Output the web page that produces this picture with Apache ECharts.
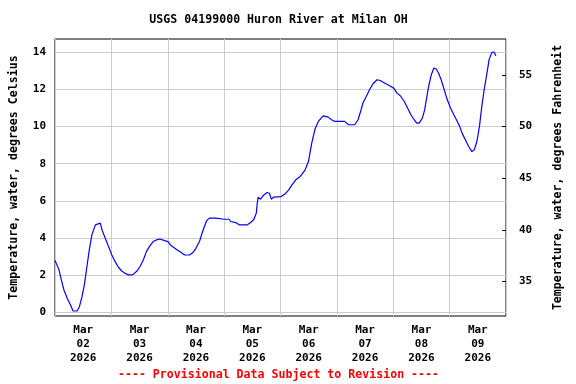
<!DOCTYPE html>
<html>
<head>
<meta charset="utf-8">
<script src="https://cdn.jsdelivr.net/npm/echarts@6/dist/echarts.min.js"></script>
<style>html,body{margin:0;padding:0;background:#fff}#c{width:576px;height:384px}</style>
</head>
<body>
<div id="c"></div>
<script>
// hours since 2026-03-02 00:00
const hours = [0.0,1.7,2.7,3.8,5.2,6.6,7.7,9.4,10.4,11.5,12.5,13.6,14.6,15.7,17.2,17.8,19.3,20.0,21.4,22.8,24.2,25.6,27.0,28.4,29.8,31.2,33.0,34.7,36.2,37.6,38.9,40.4,41.8,43.2,44.6,46.7,48.1,49.5,51.6,53.7,55.2,57.3,58.7,60.0,61.5,62.6,63.6,64.6,65.7,68.5,72.0,74.1,74.8,76.9,78.4,81.9,83.3,84.7,85.7,86.1,86.5,87.5,88.9,90.3,91.3,92.1,93.1,96.3,98.0,99.5,100.9,102.5,104.4,106.5,107.9,109.3,110.7,112.1,114.2,116.3,117.7,119.1,123.3,125.0,127.6,129.0,130.1,131.1,132.5,133.9,135.3,137.1,138.5,139.5,140.9,142.3,144.2,145.6,147.0,148.7,150.1,151.5,152.9,154.0,155.0,156.4,157.4,158.2,159.2,160.2,161.3,162.3,163.4,164.4,165.5,167.0,168.4,169.8,170.9,172.3,173.3,174.7,176.1,177.5,178.5,179.6,180.7,181.7,182.7,183.9,184.8,186.0,186.9,187.7];
const tempC = [2.8,2.29,1.75,1.21,0.76,0.40,0.08,0.08,0.31,0.85,1.48,2.47,3.36,4.17,4.71,4.80,4.80,4.44,3.99,3.54,3.09,2.73,2.43,2.23,2.11,2.02,2.02,2.20,2.47,2.82,3.27,3.58,3.81,3.90,3.95,3.86,3.81,3.58,3.40,3.22,3.09,3.09,3.22,3.45,3.81,4.26,4.62,4.94,5.07,5.07,5.01,5.01,4.89,4.83,4.71,4.71,4.83,5.01,5.34,5.87,6.20,6.09,6.32,6.45,6.41,6.09,6.20,6.23,6.38,6.59,6.86,7.13,7.31,7.67,8.11,9.10,9.86,10.27,10.57,10.50,10.36,10.27,10.27,10.09,10.09,10.36,10.80,11.26,11.61,11.97,12.28,12.51,12.47,12.39,12.29,12.20,12.06,11.79,11.65,11.34,10.99,10.63,10.36,10.18,10.18,10.45,10.90,11.52,12.24,12.78,13.14,13.09,12.83,12.51,12.06,11.43,10.99,10.63,10.36,10.00,9.64,9.28,8.92,8.65,8.74,9.19,10.00,11.07,11.97,12.87,13.59,13.98,14.00,13.80];
const dayLabels = ['Mar\n02\n2026','Mar\n03\n2026','Mar\n04\n2026','Mar\n05\n2026','Mar\n06\n2026','Mar\n07\n2026','Mar\n08\n2026','Mar\n09\n2026'];
const labelHours = [12,36,60,84,108,132,156,180];
const celsiusTicks = [0,2,4,6,8,10,12,14];
const fahrenheitTicks = [35,40,45,50,55];
const titleText = 'USGS 04199000 Huron River at Milan OH';
const noteText = '---- Provisional Data Subject to Revision ----';

const yMin = -0.19, yMax = 14.70;
const toF = c => c * 9 / 5 + 32;
const FONT = '"DejaVu Sans Mono", "Liberation Mono", monospace';

const chart = echarts.init(document.getElementById('c'), null, {renderer: 'canvas'});
chart.setOption({
  animation: false,
  backgroundColor: '#ffffff',
  grid: {left: 51, right: 70, top: 39, bottom: 68, show: true, borderColor: '#000', borderWidth: 1, containLabel: false},
  graphic: [
    {type: 'text', x: 278.5, y: 20, style: {text: titleText, font: 'bold 11.6px ' + FONT, fill: '#000', textAlign: 'center', textVerticalAlign: 'middle'}},
    {type: 'text', x: 278.5, y: 375, style: {text: noteText, font: 'bold 11.6px ' + FONT, fill: '#ff0000', textAlign: 'center', textVerticalAlign: 'middle'}}
  ],
  xAxis: {
    type: 'value', min: 0, max: 192, interval: 24,
    axisLine: {show: false}, axisTick: {show: false},
    splitLine: {show: true, lineStyle: {color: '#cccccc', width: 1}},
    axisLabel: {
      customValues: labelHours,
      formatter: v => dayLabels[labelHours.indexOf(v)] || '',
      fontFamily: FONT, fontWeight: 'bold', fontSize: 11, color: '#000', lineHeight: 14, margin: 7
    }
  },
  yAxis: [
    {
      type: 'value', min: yMin, max: yMax, position: 'left',
      axisLine: {show: false},
      axisTick: {show: false, customValues: celsiusTicks},
      splitLine: {show: true, lineStyle: {color: '#cccccc', width: 1}},
      axisLabel: {customValues: celsiusTicks, fontFamily: FONT, fontWeight: 'bold', fontSize: 11, color: '#000', margin: 9},
      name: 'Temperature, water, degrees Celsius', nameLocation: 'middle', nameGap: 35, nameRotate: 90,
      nameTextStyle: {fontFamily: FONT, fontWeight: 'bold', fontSize: 11.6, color: '#000'}
    },
    {
      type: 'value', min: toF(yMin), max: toF(yMax), position: 'right',
      axisLine: {show: false},
      axisTick: {show: true, inside: true, length: 4, customValues: fahrenheitTicks, lineStyle: {color: '#000'}},
      splitLine: {show: false},
      axisLabel: {customValues: fahrenheitTicks, fontFamily: FONT, fontWeight: 'bold', fontSize: 11, color: '#000', margin: 13},
      name: 'Temperature, water, degrees Fahrenheit', nameLocation: 'middle', nameGap: 46, nameRotate: 90,
      nameTextStyle: {fontFamily: FONT, fontWeight: 'bold', fontSize: 11.6, color: '#000'}
    }
  ],
  series: [{
    type: 'line', yAxisIndex: 0, showSymbol: false, symbol: 'none',
    data: hours.map((h, i) => [h, tempC[i]]),
    lineStyle: {color: '#0000ff', width: 1.2}, silent: true
  }]
});
</script>
</body>
</html>
